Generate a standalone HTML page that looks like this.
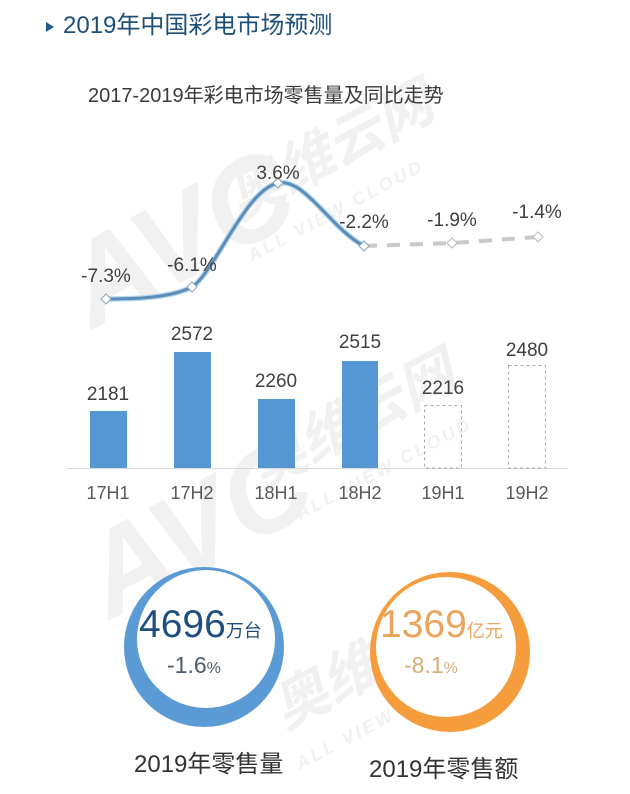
<!DOCTYPE html>
<html><head><meta charset="utf-8"><style>
html,body{margin:0;padding:0;background:#fff;}
svg{display:block;}
text{font-family:"Liberation Sans","Noto Sans CJK SC",sans-serif;}
</style></head><body>
<svg width="630" height="794" viewBox="0 0 630 794" xmlns="http://www.w3.org/2000/svg">
<rect width="630" height="794" fill="#fff"/>
<!-- watermarks -->
<g fill="#f1f1f1" font-weight="bold" font-style="italic">
  <text x="0" y="0" font-size="118" transform="translate(92,330) rotate(-28)">AVC</text>
  <text x="0" y="0" font-size="56" font-family="Noto Sans CJK SC,sans-serif" transform="translate(240,220) rotate(-28)">奥维云网</text>
  <text x="0" y="0" font-size="18" transform="translate(252,262) rotate(-28)" letter-spacing="3">ALL VIEW CLOUD</text>
  <text x="0" y="0" font-size="118" transform="translate(110,620) rotate(-28)">AVC</text>
  <text x="0" y="0" font-size="56" font-family="Noto Sans CJK SC,sans-serif" transform="translate(262,490) rotate(-28)">奥维云网</text>
  <text x="0" y="0" font-size="18" transform="translate(300,520) rotate(-28)" letter-spacing="3">ALL VIEW CLOUD</text>
  <text x="0" y="0" font-size="56" font-family="Noto Sans CJK SC,sans-serif" transform="translate(285,730) rotate(-28)">奥维云网</text>
  <text x="0" y="0" font-size="18" transform="translate(300,770) rotate(-28)" letter-spacing="3">ALL VIEW CLOUD</text>
</g>

<!-- title -->
<polygon points="46,22 54,27 46,32" fill="#1f5c8a"/>
<text x="63" y="33" font-size="24" fill="#1e4f78">2019年中国彩电市场预测</text>
<text x="88" y="102" font-size="20" fill="#3a3a3a">2017-2019年彩电市场零售量及同比走势</text>

<!-- line chart -->
<path d="M364,246 L452,243 L538,237" fill="none" stroke="#c9c9c9" stroke-width="4" stroke-dasharray="13,10"/>
<path d="M106,299 C135,299 170,298 192,287 C215,272 245,190 278,183 C305,178 330,228 364,246" fill="none" stroke="#b8d8ec" stroke-width="5.5" stroke-linecap="round"/>
<path d="M106,299 C135,299 170,298 192,287 C215,272 245,190 278,183 C305,178 330,228 364,246" fill="none" stroke="#5b8db8" stroke-width="3" stroke-linecap="round"/>
<g fill="#fff" stroke="#8aa6bf" stroke-width="1">
  <polygon points="106,294 111,299 106,304 101,299"/>
  <polygon points="192,282 197,287 192,292 187,287"/>
  <polygon points="278,178 283,183 278,188 273,183"/>
  <polygon points="364,241 369,246 364,251 359,246"/>
</g>
<g fill="#fff" stroke="#bbbbbb" stroke-width="1">
  <polygon points="452,238 457,243 452,248 447,243"/>
  <polygon points="538,232 543,237 538,242 533,237"/>
</g>
<g font-size="19" fill="#404040" text-anchor="middle">
  <text x="106" y="282">-7.3%</text>
  <text x="192" y="271">-6.1%</text>
  <text x="278" y="179">3.6%</text>
  <text x="364" y="228">-2.2%</text>
  <text x="452" y="226">-1.9%</text>
  <text x="537" y="218">-1.4%</text>
</g>

<!-- bars -->
<line x1="67" y1="468.5" x2="568" y2="468.5" stroke="#d9d9d9" stroke-width="1"/>
<g fill="#5597d3">
  <rect x="90" y="411" width="37" height="57"/>
  <rect x="174" y="352" width="37" height="116"/>
  <rect x="258" y="399" width="37" height="69"/>
  <rect x="342" y="361" width="36" height="107"/>
</g>
<g fill="none" stroke="#a8a8a8" stroke-width="1" stroke-dasharray="3,3">
  <rect x="424.5" y="405.5" width="37" height="62.5"/>
  <rect x="508.5" y="365.5" width="37" height="102.5"/>
</g>
<g font-size="19" fill="#404040" text-anchor="middle">
  <text x="108" y="400">2181</text>
  <text x="192" y="340">2572</text>
  <text x="276" y="387">2260</text>
  <text x="360" y="348">2515</text>
  <text x="443" y="394">2216</text>
  <text x="527" y="356">2480</text>
</g>
<g font-size="18" fill="#595959" text-anchor="middle">
  <text x="108" y="499">17H1</text>
  <text x="192" y="499">17H2</text>
  <text x="276" y="499">18H1</text>
  <text x="360" y="499">18H2</text>
  <text x="443" y="499">19H1</text>
  <text x="527" y="499">19H2</text>
</g>

<!-- circles -->
<circle cx="204" cy="647" r="80" fill="#5b9bd5"/>
<circle cx="206" cy="639" r="69" fill="#fff"/>
<text x="139" y="637" font-size="39" fill="#1d4e7e">4696<tspan font-size="18" font-family="Noto Sans CJK SC,sans-serif">万台</tspan></text>
<text x="167" y="673" font-size="23" fill="#4a5a6a">-1.6<tspan font-size="16">%</tspan></text>

<circle cx="450" cy="652" r="80" fill="#f59d3d"/>
<circle cx="446" cy="647" r="70" fill="#fff"/>
<text x="380" y="637" font-size="39" fill="#e9a55c">1369<tspan font-size="18" font-family="Noto Sans CJK SC,sans-serif">亿元</tspan></text>
<text x="404" y="673" font-size="23" fill="#d8ad78">-8.1<tspan font-size="16">%</tspan></text>

<text x="134" y="772" font-size="24" fill="#333">2019年零售量</text>
<text x="369" y="777" font-size="24" fill="#333">2019年零售额</text>
</svg>
</body></html>
